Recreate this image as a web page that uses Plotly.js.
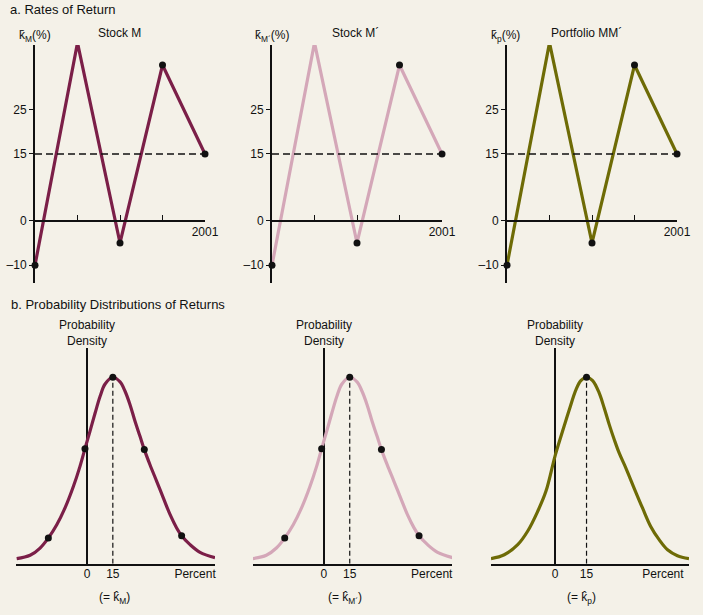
<!DOCTYPE html>
<html>
<head>
<meta charset="utf-8">
<script src="https://cdn.plot.ly/plotly-3.0.1.min.js"></script>
<style>
  html, body { margin: 0; padding: 0; background: #f4f1e8; }
  #plot { width: 703px; height: 615px; }
</style>
</head>
<body>
<div id="plot"></div>
<script>
// a. rates of return (same for M, M' and the portfolio)
const years = [1997, 1998, 1999, 2000, 2001];
const returnsM = [-10, 40, -5, 35, 15];
const returnsM2 = [-10, 40, -5, 35, 15];
const returnsP = [-10, 40, -5, 35, 15];
const meanReturn = 15;
const yTickVals = [-10, 0, 15, 25];
const yTickText = ['\u201310', '0', '15', '25'];

// b. probability distributions (density: peak = 100)
const distPctM = [-40.9, -33.1, -27.3, -22.5, -17.6, -12.8, -7.9, -4.1, -1.2, 1.7, 4.7, 7.6, 10.5, 15,
  19.2, 22.1, 25.0, 27.9, 30.8, 33.3, 36.6, 40.5, 44.4, 48.3, 52.1, 55.0, 59.9, 65.7, 74.4];
const distDensM = [2.7, 4.5, 8.4, 13.8, 20.9, 29.9, 41.5, 52.2, 61.7, 71.0, 80.8, 89.8, 96.4, 100,
  97.5, 92.5, 85.3, 76.4, 68.3, 61.2, 53.1, 44.2, 35.2, 26.3, 19.2, 15.0, 10.2, 6.1, 3.2];
const dotPctM = [-22.5, -1.2, 15, 33.3, 55.0];
const dotDensM = [13.8, 61.7, 100, 61.2, 15.0];

const distPctP = [-30.4, -24.1, -17.7, -13.0, -8.2, -4.3, 0, 3.6, 6.8, 10.0, 12.3, 15,
  17.9, 21.0, 23.4, 25.8, 28.2, 30.5, 33.7, 37.6, 41.6, 45.5, 49.5, 53.5, 58.2, 63.7];
const distDensP = [2.7, 4.8, 10.2, 17.4, 28.1, 38.8, 57.6, 71.0, 82.6, 93.4, 98.2, 100,
  98.2, 91.6, 83.5, 74.6, 66.5, 59.4, 51.3, 40.6, 29.9, 20.0, 12.9, 7.5, 4.3, 2.7];
const dotPctP = [15];
const dotDensP = [100];

const W = 703, H = 615;
const px = v => v / W;
const py = v => 1 - v / H;

const colors = ['#7b1f48', '#d4a7b8', '#6e6b06'];
const ink = '#111';
const font = 'Liberation Sans, Arial, sans-serif';

// top panels: [left, right] in pixels
const topX = [[35, 205], [272, 442], [507, 677]];
const topY = [45, 283];
const topRange = [-14, 39.5];
const topSeries = [returnsM, returnsM2, returnsP];

// bottom panels
const botX = [[16, 215], [253, 452], [491, 689]];
const botY = [348, 563.7];
const botXRange = [[-41.3, 74.4], [-40.8, 74.0], [-30.4, 63.7]];
const botYRange = [0, 115.7];
const percentAt = [62.8, 62.3, 51.3];
const botCurves = [[distPctM, distDensM, dotPctM, dotDensM], [distPctM, distDensM, dotPctM, dotDensM],
  [distPctP, distDensP, dotPctP, dotDensP]];

const data = [];
const layout = {
  width: W, height: H,
  margin: {l: 0, r: 0, t: 0, b: 0},
  paper_bgcolor: '#f4f1e8',
  plot_bgcolor: 'rgba(0,0,0,0)',
  showlegend: false,
  font: {family: font, size: 12, color: ink},
  annotations: []
};

const zeroPos = py(topY[0] + (topRange[1] - 0) / (topRange[1] - topRange[0]) * (topY[1] - topY[0]));

for (let i = 0; i < 3; i++) {
  const n = i + 1;
  const xa = 'x' + n, ya = 'y' + n;
  data.push({
    x: years, y: topSeries[i], xaxis: xa, yaxis: ya, type: 'scatter', mode: 'lines',
    line: {color: colors[i], width: 3.2}, cliponaxis: false, hoverinfo: 'skip'
  });
  data.push({
    x: [years[0], years[4] + 0.12], y: [meanReturn, meanReturn], xaxis: xa, yaxis: ya,
    type: 'scatter', mode: 'lines', line: {color: ink, width: 1.3, dash: '7px,4px'}, cliponaxis: false
  });
  data.push({
    x: years, y: topSeries[i], xaxis: xa, yaxis: ya, type: 'scatter', mode: 'markers',
    marker: {color: ink, size: 7}, cliponaxis: false
  });
  layout['xaxis' + n] = {
    domain: [px(topX[i][0]), px(topX[i][1])], range: [years[0], years[4]],
    anchor: 'free', position: zeroPos, showline: true, linewidth: 2, linecolor: ink,
    ticks: 'inside', ticklen: 5, tickwidth: 1, tickcolor: ink,
    tickvals: [1998, 1999, 2000, 2001], ticktext: ['', '', '', '2001'],
    showgrid: false, zeroline: false, fixedrange: true
  };
  layout['yaxis' + n] = {
    domain: [py(topY[1]), py(topY[0])], range: topRange, anchor: xa,
    showline: true, linewidth: 2, linecolor: ink,
    ticks: 'outside', ticklen: 4, tickwidth: 1, tickcolor: ink,
    tickvals: yTickVals, ticktext: yTickText,
    showgrid: false, zeroline: false, fixedrange: true
  };

  // bottom
  const m = i + 4;
  const xb = 'x' + m, yb = 'y' + m;
  const c = botCurves[i];
  data.push({
    x: [meanReturn, meanReturn], y: [0, 100], xaxis: xb, yaxis: yb, type: 'scatter', mode: 'lines',
    line: {color: ink, width: 1.2, dash: '5px,3px'}
  });
  data.push({
    x: c[0], y: c[1], xaxis: xb, yaxis: yb, type: 'scatter', mode: 'lines',
    line: {color: colors[i], width: 3.2, shape: 'spline', smoothing: 1}, cliponaxis: false
  });
  data.push({
    x: c[2], y: c[3], xaxis: xb, yaxis: yb, type: 'scatter', mode: 'markers',
    marker: {color: ink, size: 7}, cliponaxis: false
  });
  layout['xaxis' + m] = {
    domain: [px(botX[i][0]), px(botX[i][1])], range: botXRange[i], anchor: yb,
    showline: true, linewidth: 2, linecolor: ink, ticks: '', ticklabelstandoff: -2,
    tickvals: [0, 15, percentAt[i]], ticktext: ['0', '15', 'Percent'],
    showgrid: false, zeroline: true, zerolinecolor: ink, zerolinewidth: 2, fixedrange: true
  };
  layout['yaxis' + m] = {
    domain: [py(botY[1]), py(botY[0])], range: botYRange, anchor: xb,
    showticklabels: false, showline: false, showgrid: false, zeroline: false, fixedrange: true
  };
}

function note(text, x, y, anchor, size) {
  layout.annotations.push({
    text: text, xref: 'paper', yref: 'paper', x: px(x), y: py(y),
    xanchor: anchor || 'center', yanchor: 'middle', showarrow: false,
    font: {family: font, size: size || 12, color: ink}
  });
}

note('a. Rates of Return', 8, 10, 'left', 13);
note('b. Probability Distributions of Returns', 9, 305, 'left', 13);
note('Stock M', 120, 33);
note('Stock M\u00b4', 355, 33);
note('Portfolio MM\u00b4', 586, 33);
note('k\u0304<sub>M</sub>(%)', 17, 36, 'left');
note('k\u0304<sub>M\u00b4</sub>(%)', 253, 36, 'left');
note('k\u0304<sub>p</sub>(%)', 489, 36, 'left');

const densX = [87, 324, 555];
const hatX = [115, 345, 581];
const hatSub = ['M', 'M\u00b4', 'p'];
for (let i = 0; i < 3; i++) {
  note('Probability<br>Density', densX[i], 333);
  note('(= k\u0302<sub>' + hatSub[i] + '</sub>)', hatX[i], 598);
}

Plotly.newPlot('plot', data, layout, {displayModeBar: false, staticPlot: true});
</script>
</body>
</html>
